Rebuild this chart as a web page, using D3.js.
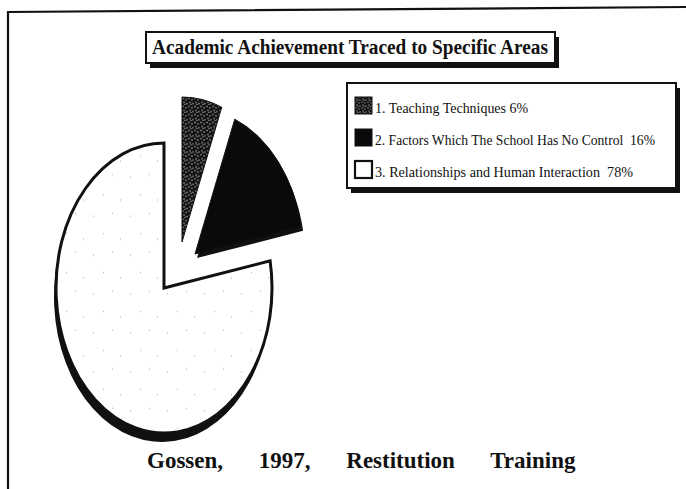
<!DOCTYPE html>
<html>
<head>
<meta charset="utf-8">
<script src="https://cdn.jsdelivr.net/npm/d3@7"></script>
<style>
  body { margin: 0; background: #fff; }
  svg { display: block; }
  text { font-family: "Liberation Serif", "Times New Roman", serif; fill: #111; }
</style>
</head>
<body>
<svg id="chart" width="686" height="489"></svg>
<script>
// data
const categories = [
  "1. Teaching Techniques",
  "2. Factors Which The School Has No Control",
  "3. Relationships and Human Interaction"
]
const values = [6, 16, 78]
const gaps = [" ", "  ", "  "]
const title = "Academic Achievement Traced to Specific Areas"
const footer = "Gossen, 1997, Restitution Training"

const width = 686, height = 489
const svg = d3.select("#chart")
const defs = svg.append("defs")

// stipple for slice 1 (dark with light dots)
const stip = defs.append("pattern")
  .attr("id", "stipple")
  .attr("patternUnits", "userSpaceOnUse")
  .attr("width", 6).attr("height", 6)
stip.append("rect").attr("width", 6).attr("height", 6).attr("fill", "#111")
;[[0.5, 0.5], [3.5, 1.5], [1.5, 3.5], [4.5, 4.5], [2.5, 5.2]].forEach(([x, y]) => {
  stip.append("rect").attr("x", x).attr("y", y).attr("width", 1).attr("height", 1).attr("fill", "#ddd")
})

// faint speckle inside the large slice
const speck = defs.append("pattern")
  .attr("id", "speck")
  .attr("patternUnits", "userSpaceOnUse")
  .attr("width", 37).attr("height", 29)
speck.append("rect").attr("width", 37).attr("height", 29).attr("fill", "#fff")
;[[3, 4], [22, 2], [13, 17], [30, 21]].forEach(([x, y]) => {
  speck.append("rect").attr("x", x).attr("y", y).attr("width", 1).attr("height", 1).attr("fill", "#bbb")
})

const fills = ["url(#stipple)", "#0a0a0a", "url(#speck)"]

// outer frame (only top and left edges show in the scan)
svg.append("path")
  .attr("d", `M8,${height} L8,12 L${width},7`)
  .attr("fill", "none")
  .attr("stroke", "#111")
  .attr("stroke-width", 2.2)

// title box
const tb = { x: 146, y: 32, w: 409, h: 31 }
svg.append("rect")
  .attr("x", tb.x + 4).attr("y", tb.y + 5)
  .attr("width", tb.w).attr("height", tb.h)
  .attr("fill", "#111")
svg.append("rect")
  .attr("x", tb.x).attr("y", tb.y)
  .attr("width", tb.w).attr("height", tb.h)
  .attr("fill", "#fff").attr("stroke", "#111").attr("stroke-width", 2)
svg.append("text")
  .attr("x", tb.x + 6).attr("y", tb.y + 22)
  .attr("font-size", 20)
  .attr("font-weight", "bold")
  .attr("textLength", 396)
  .attr("lengthAdjust", "spacingAndGlyphs")
  .text(title)

// pie
const rx = 108, ry = 145
const cx = 164, cy = 288
// how far each slice is pulled out of the pie, in pixels
const explode = [[18, -46], [31, -34], [0, 0]]

const pie = d3.pie().sort(null).startAngle(0).endAngle(2 * Math.PI)
const arcs = pie(values)
const arc = d3.arc().innerRadius(0).outerRadius(rx)

const pieG = svg.append("g")

// shadow under the large slice
pieG.append("g")
  .attr("transform", `translate(${cx - 2},${cy + 9}) scale(1,${ry / rx})`)
  .append("path")
  .attr("d", arc(arcs[2]))
  .attr("fill", "#111")

// slight shadow under the black slice tip
pieG.append("g")
  .attr("transform", `translate(${cx + explode[1][0] + 2},${cy + explode[1][1] + 4}) scale(1,${ry / rx})`)
  .append("path")
  .attr("d", arc(arcs[1]))
  .attr("fill", "#111")

pieG.selectAll("g.slice")
  .data(arcs)
  .join("g")
  .attr("class", "slice")
  .attr("transform", (d, i) => `translate(${cx + explode[i][0]},${cy + explode[i][1]}) scale(1,${ry / rx})`)
  .append("path")
  .attr("d", arc)
  .attr("fill", (d, i) => fills[i])
  .attr("stroke", "#111")
  .attr("stroke-width", (d, i) => i === 2 ? 3 : 1)
  .attr("stroke-linejoin", "miter")
  .attr("vector-effect", "non-scaling-stroke")

// legend box
const lb = { x: 347, y: 83, w: 329, h: 105 }
svg.append("rect")
  .attr("x", lb.x + 4).attr("y", lb.y + 5)
  .attr("width", lb.w).attr("height", lb.h)
  .attr("fill", "#111")
svg.append("rect")
  .attr("x", lb.x).attr("y", lb.y)
  .attr("width", lb.w).attr("height", lb.h)
  .attr("fill", "#fff").attr("stroke", "#111").attr("stroke-width", 2)

const rowY = d3.scalePoint()
  .domain(categories)
  .range([lb.y + 30, lb.y + 94])
const textLen = [153, 280, 258]
const swatchFill = ["url(#stipple)", "#0a0a0a", "#fff"]

const rows = svg.selectAll("g.legend-row")
  .data(categories)
  .join("g")
  .attr("class", "legend-row")
  .attr("transform", d => `translate(${lb.x + 8},${rowY(d)})`)

rows.append("rect")
  .attr("x", 0).attr("y", -16)
  .attr("width", 17).attr("height", 17)
  .attr("fill", (d, i) => swatchFill[i])
  .attr("stroke", "#111")
  .attr("stroke-width", (d, i) => i === 2 ? 2.2 : 1)

rows.append("text")
  .attr("x", 20).attr("y", 0)
  .attr("font-size", 15)
  .attr("textLength", (d, i) => textLen[i])
  .attr("lengthAdjust", "spacingAndGlyphs")
  .style("white-space", "pre")
  .text((d, i) => d + gaps[i] + values[i] + "%")

// source line
svg.append("text")
  .attr("x", 147).attr("y", 468)
  .attr("font-size", 23)
  .attr("font-weight", "bold")
  .attr("word-spacing", 30)
  .text(footer)
</script>
</body>
</html>
